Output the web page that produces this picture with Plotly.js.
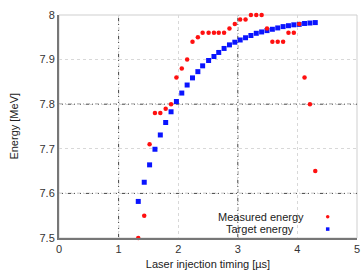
<!DOCTYPE html>
<html>
<head>
<meta charset="utf-8">
<script src="https://cdn.plot.ly/plotly-3.0.1.min.js"></script>
<style>html,body{margin:0;padding:0;background:#fff;}#chart{width:361px;height:271px;}</style>
</head>
<body>
<div id="chart"></div>
<script>
// Laser injection timing [µs]
const timing = [1.33, 1.43, 1.52, 1.61, 1.70, 1.79, 1.88, 1.97, 2.06, 2.15, 2.24, 2.33, 2.41, 2.51, 2.60, 2.68, 2.77, 2.86, 2.95, 3.04, 3.13, 3.22, 3.31, 3.40, 3.49, 3.58, 3.67, 3.76, 3.85, 3.94, 4.03, 4.12, 4.21, 4.30];
// Measured energy [MeV]
const measured = [7.50, 7.55, 7.71, 7.78, 7.78, 7.79, 7.80, 7.86, 7.88, 7.90, 7.94, 7.95, 7.96, 7.96, 7.96, 7.96, 7.96, 7.97, 7.98, 7.99, 7.99, 8.00, 8.00, 8.00, 7.97, 7.94, 7.94, 7.94, 7.96, 7.96, 7.98, 7.86, 7.80, 7.65];
// Target energy [MeV]
const target = [7.582, 7.625, 7.664, 7.699, 7.731, 7.759, 7.783, 7.806, 7.825, 7.843, 7.859, 7.873, 7.886, 7.898, 7.907, 7.916, 7.925, 7.933, 7.939, 7.944, 7.949, 7.954, 7.959, 7.962, 7.965, 7.968, 7.971, 7.974, 7.976, 7.978, 7.979, 7.981, 7.982, 7.983];
const xTicks = [0, 1, 2, 3, 4, 5];
const yTicks = [7.5, 7.6, 7.7, 7.8, 7.9, 8];
const seriesNames = ["Measured energy", "Target energy"];
const xTitle = "Laser injection timing [µs]";
const yTitle = "Energy [MeV]";

const font = "Liberation Sans, Arial, sans-serif";
const traces = [
  {x: timing, y: target, type: "scatter", mode: "markers", name: seriesNames[1], cliponaxis: false,
   marker: {symbol: "square", size: 5, color: "#0a14ff"}, showlegend: false},
  {x: timing, y: measured, type: "scatter", mode: "markers", name: seriesNames[0], cliponaxis: false,
   marker: {symbol: "circle", size: 4.5, color: "#ff1010"}, showlegend: false}
];
const darkGrid = {color: "#444", width: 1, dash: "4px,2px,1px,2px"};
const shapes = [
  {type: "rect", xref: "paper", yref: "paper", x0: 0, x1: 1, y0: 0, y1: 1, line: {color: "#cfcfcf", width: 1}, layer: "below"},
  {type: "line", xref: "x", yref: "paper", x0: 1, x1: 1, y0: 0, y1: 1, line: darkGrid, layer: "below"},
  {type: "line", xref: "x", yref: "paper", x0: 3, x1: 3, y0: 0, y1: 1, line: darkGrid, layer: "below"},
  {type: "line", xref: "paper", yref: "y", x0: 0, x1: 1, y0: 7.6, y1: 7.6, line: darkGrid, layer: "below"},
  {type: "line", xref: "paper", yref: "y", x0: 0, x1: 1, y0: 7.8, y1: 7.8, line: darkGrid, layer: "below"},
  // legend symbols
  {type: "circle", xref: "paper", yref: "paper", x0: 0.8958, x1: 0.9076, y0: 0.0876, y1: 0.1034, fillcolor: "#ff1010", line: {width: 0}},
  {type: "rect", xref: "paper", yref: "paper", x0: 0.8958, x1: 0.9076, y0: 0.0321, y1: 0.0479, fillcolor: "#0a14ff", line: {width: 0}}
];
const layout = {
  width: 361, height: 271,
  margin: {l: 59, r: 4, t: 15, b: 33},
  paper_bgcolor: "#fff", plot_bgcolor: "#fff",
  font: {family: font, size: 11, color: "#333"},
  showlegend: false,
  xaxis: {range: [0, 5], tickvals: xTicks, ticktext: xTicks.map(String), showgrid: true, gridcolor: "#d8d8d8", griddash: "dot",
          zeroline: false, showline: true, linecolor: "#777", linewidth: 2, ticks: "", tickfont: {size: 11, color: "#333"},
          title: {text: xTitle, font: {size: 11, color: "#222"}, standoff: 6}},
  yaxis: {range: [7.5, 8], tickvals: yTicks, ticktext: yTicks.map(String), showgrid: true, gridcolor: "#d8d8d8", griddash: "dot",
          zeroline: false, showline: true, linecolor: "#777", linewidth: 2, ticks: "", tickfont: {size: 11, color: "#333"},
          title: {text: ""}},
  shapes: shapes,
  annotations: [
    {xref: "paper", yref: "paper", x: -0.154, y: 0.5, text: yTitle, textangle: -90, showarrow: false, xanchor: "center", yanchor: "middle", font: {size: 11, color: "#222"}},
    {xref: "paper", yref: "paper", x: 0.678, y: 0.094, text: seriesNames[0], showarrow: false, xanchor: "center", yanchor: "middle", font: {size: 11, color: "#222"}},
    {xref: "paper", yref: "paper", x: 0.673, y: 0.040, text: seriesNames[1], showarrow: false, xanchor: "center", yanchor: "middle", font: {size: 11, color: "#222"}}
  ]
};
Plotly.newPlot("chart", traces, layout, {displayModeBar: false, staticPlot: true});
</script>
</body>
</html>
